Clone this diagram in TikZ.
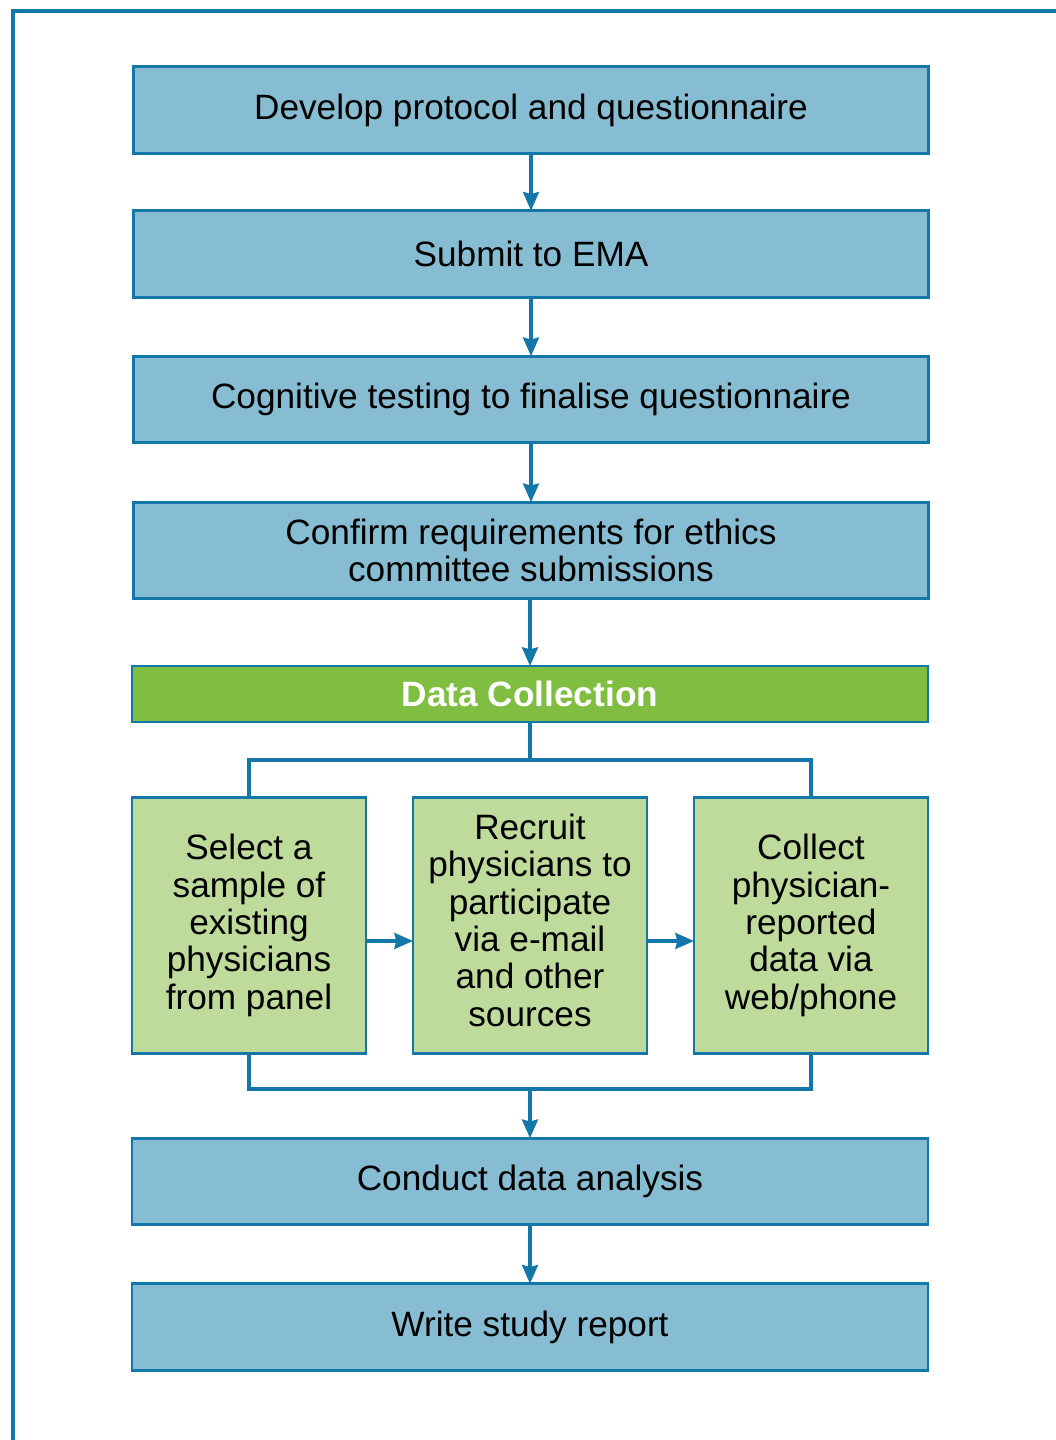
\documentclass[tikz,border=0pt]{standalone}
\usepackage{fontspec}
\setmainfont{Liberation Sans}
\usetikzlibrary{arrows.meta}
\definecolor{frameblue}{HTML}{1477AA}
\definecolor{boxblue}{HTML}{87BDD3}
\definecolor{boxgreen}{HTML}{BFDB9B}
\definecolor{dcgreen}{HTML}{80BE41}
\begin{document}
\begin{tikzpicture}[x=0.75pt,y=-0.75pt,
  every node/.style={inner sep=0pt, outer sep=0pt},
  mainbox/.style={draw=frameblue, line width=2.2pt, fill=boxblue, minimum width=596pt, minimum height=65pt, align=center, font=\fontsize{26.4}{28}\selectfont},
  subbox/.style={draw=frameblue, line width=2.2pt, fill=boxgreen, minimum width=175.5pt, minimum height=192.5pt, align=center, font=\fontsize{26.4}{28}\selectfont},
  dcbox/.style={draw=frameblue, line width=2.2pt, fill=dcgreen, minimum width=597pt, minimum height=42pt, align=center, text=white, font=\fontsize{26.4}{28}\selectfont\bfseries},
  conn/.style={draw=frameblue, line width=2.4pt},
  arr/.style={conn, -{Stealth[length=14pt,width=12pt,inset=1.5pt]}}
]
\useasboundingbox (0,0) rectangle (1056,1440);
\draw[conn] (13,1445) -- (13,11) -- (1060,11);

\node[mainbox] (b1) at (531,110) {Develop protocol and questionnaire};
\node[mainbox] (b2) at (531,254) {Submit to EMA};
\node[mainbox] (b3) at (531,399.5) {Cognitive testing to finalise questionnaire};
\node[mainbox, minimum height=72.5pt] (b4) at (531,550.5) {Confirm requirements for ethics\\committee submissions};
\node[dcbox] (dc) at (530,694) {Data Collection};
\node[subbox] (sa) at (249,925.5) {Select a\\sample of\\existing\\physicians\\from panel};
\node[subbox] (sb) at (530,925.5) {\raisebox{5pt}{\begin{tabular}{@{}c@{}}Recruit\\physicians to\\participate\\via e-mail\\and other\\sources\end{tabular}}};
\node[subbox] (sc) at (811,925.5) {Collect\\physician-\\reported\\data via\\web/phone};
\node[mainbox, minimum width=597pt] (b7) at (530,1181.5) {Conduct data analysis};
\node[mainbox, minimum width=597pt] (b8) at (530,1327) {Write study report};

\coordinate (top) at (530,760);
\coordinate (bot) at (530,1089);

\draw[arr] (b1) -- (b2);
\draw[arr] (b2) -- (b3);
\draw[arr] (b3) -- (b4);
\draw[arr] (b4.south -| dc.north) -- (dc.north);
\draw[conn] (dc.south) -- (top);
\draw[conn] (sa.north) |- (top) -| (sc.north);
\draw[arr] ([yshift=-11.6pt]sa.east) -- ([yshift=-11.6pt]sb.west);
\draw[arr] ([yshift=-11.6pt]sb.east) -- ([yshift=-11.6pt]sc.west);
\draw[conn] (sa.south) |- (bot) -| (sc.south);
\draw[arr] (bot) -- (b7.north);
\draw[arr] (b7) -- (b8);
\end{tikzpicture}
\end{document}
